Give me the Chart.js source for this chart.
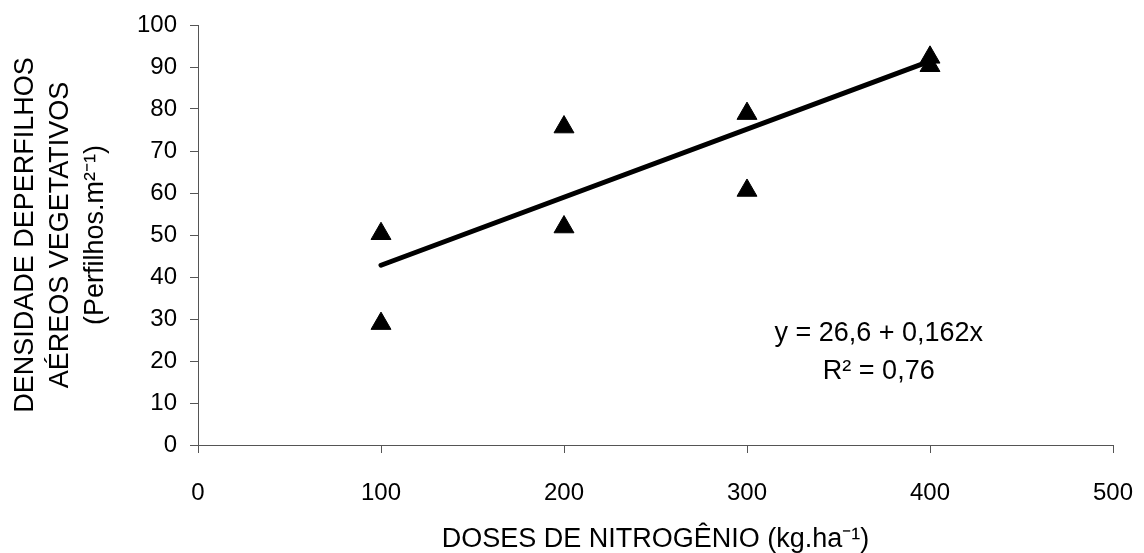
<!DOCTYPE html>
<html>
<head>
<meta charset="utf-8">
<script src="https://cdn.jsdelivr.net/npm/chart.js@4/dist/chart.umd.min.js"></script>
<style>
  html, body { margin: 0; padding: 0; background: #fff; }
  #wrap { width: 1144px; height: 553px; }
</style>
</head>
<body>
<div id="wrap"><canvas id="chart"></canvas></div>
<script>
// observed points (dose, density)
const doses = [100, 100, 200, 200, 300, 300, 400, 400];
const density = [50.3, 28.9, 75.7, 51.9, 78.9, 60.6, 92.3, 90.3];

// fitted line end points
const trendX = [100, 400];
const trendY = [42.8, 91.4];

const equationLines = ['y = 26,6 + 0,162x', 'R² = 0,76'];

const font = 'Liberation Sans, Arial, sans-serif';

// draws the regression equation as plain text inside the plot
const equationText = {
  id: 'equationText',
  afterDatasetsDraw(chart) {
    const ctx = chart.ctx;
    const x = chart.scales.x.getPixelForValue(372);
    const y = chart.scales.y.getPixelForValue(24.8);
    ctx.save();
    ctx.fillStyle = '#000';
    ctx.font = '27px ' + font;
    ctx.textAlign = 'center';
    ctx.textBaseline = 'alphabetic';
    ctx.fillText(equationLines[0], x, y);
    ctx.fillText(equationLines[1], x, y + 38);
    ctx.restore();
  }
};

const ctx = document.getElementById('chart').getContext('2d');
const chart = new Chart(ctx, {
  type: 'scatter',
  data: {
    datasets: [
      {
        data: doses.map((d, i) => ({ x: d, y: density[i] })),
        pointStyle: 'triangle',
        pointRadius: 11.5,
        backgroundColor: '#000',
        borderColor: '#000',
        borderWidth: 1
      },
      {
        type: 'line',
        data: trendX.map((d, i) => ({ x: d, y: trendY[i] })),
        borderColor: '#000',
        borderWidth: 5,
        borderCapStyle: 'round',
        pointRadius: 0,
        fill: false
      }
    ]
  },
  options: {
    responsive: true,
    maintainAspectRatio: false,
    animation: false,
    layout: { padding: { top: 25, right: 31, left: 8, bottom: 0 } },
    plugins: {
      legend: { display: false },
      tooltip: { enabled: false }
    },
    scales: {
      x: {
        type: 'linear',
        min: 0,
        max: 500,
        ticks: { stepSize: 100, color: '#000', font: { family: font, size: 24, lineHeight: 1 }, padding: 28 },
        grid: { drawOnChartArea: false, drawTicks: true, tickLength: 8, color: '#555' },
        border: { color: '#555', width: 1 },
        title: {
          display: true,
          text: 'DOSES DE NITROGÊNIO (kg.ha⁻¹)',
          color: '#000',
          font: { family: font, size: 27, lineHeight: 1 },
          padding: { top: 0, bottom: 0 }
        },
        afterFit(scale) {
          scale.height = 108;
          scale.paddingLeft = 0;
          scale.paddingRight = 0;
        }
      },
      y: {
        min: 0,
        max: 100,
        ticks: { stepSize: 10, color: '#000', font: { family: font, size: 24 }, padding: 13 },
        grid: { drawOnChartArea: false, drawTicks: true, tickLength: 8, color: '#555' },
        border: { color: '#555', width: 1 },
        title: {
          display: true,
          text: ['DENSIDADE DEPERFILHOS', 'AÉREOS VEGETATIVOS', '(Perfilhos.m²⁻¹)'],
          color: '#000',
          font: { family: font, size: 27, lineHeight: 1.3 },
          padding: { top: 0, bottom: 0 }
        },
        afterFit(scale) {
          scale.width = 190;
          scale.paddingTop = 0;
          scale.paddingBottom = 0;
        }
      }
    }
  },
  plugins: [equationText]
});
</script>
</body>
</html>
